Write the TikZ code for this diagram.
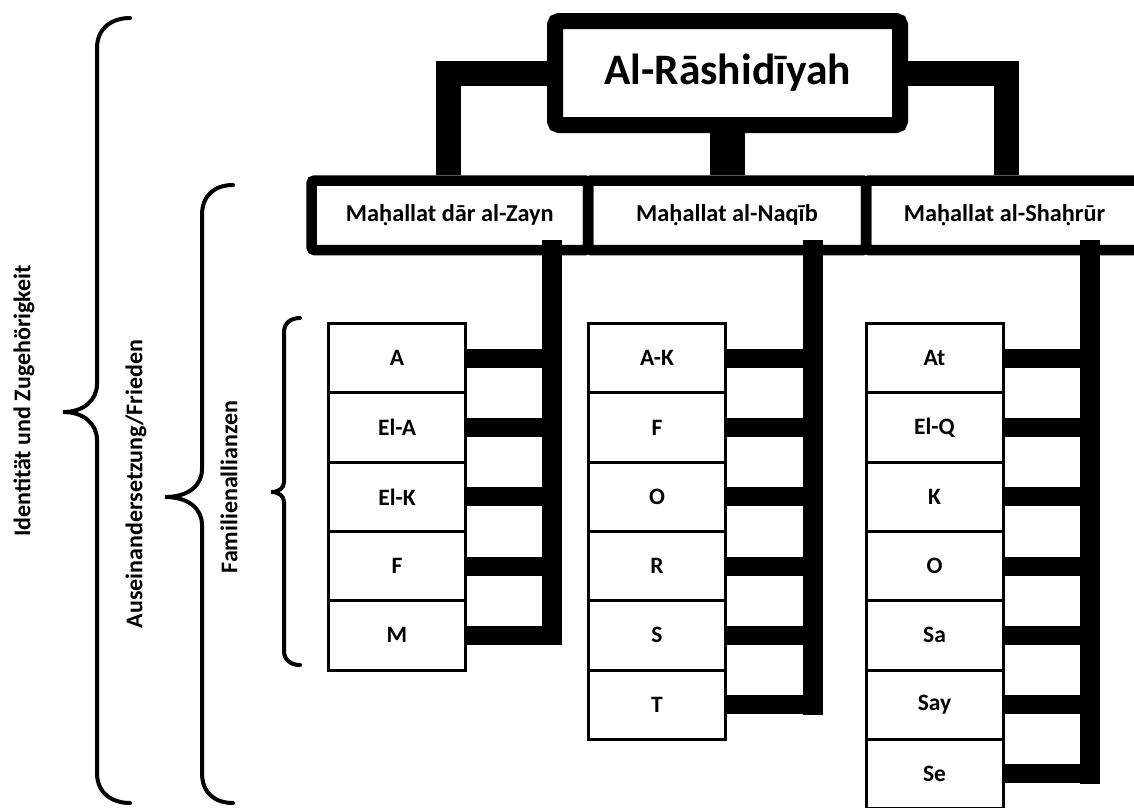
\documentclass[tikz,border=0pt]{standalone}
\usepackage{fontspec}
\setmainfont{Carlito}
\begin{document}
\begin{tikzpicture}[x=1pt,y=-1pt,
  titlebox/.style={draw,line width=16,rounded corners=4,minimum width=345,minimum height=104,inner sep=0,font=\fontsize{43.5}{52}\selectfont\bfseries},
  rowbox/.style={draw,line width=10.5,rounded corners=3,minimum height=69.5,inner sep=0,font=\fontsize{24.3}{29}\selectfont\bfseries},
  childbox/.style={draw,line width=3,minimum width=137,minimum height=69.3,inner sep=0,font=\fontsize{23.5}{28}\selectfont\bfseries},
  arm/.style={line width=25},
  midstem/.style={line width=35},
  stem/.style={line width=20,line cap=rect},
  bar/.style={line width=19},
  bracestyle/.style={line width=4,line cap=round},
  sidelabel/.style={rotate=90,inner sep=0,font=\fontsize{24}{29}\selectfont\bfseries}]
\useasboundingbox (0,0) rectangle (1134,807);
\clip (0,0) rectangle (1134,807);
\fill[white] (0,0) rectangle (1134,807);

% title
\node[titlebox] (title) at (727.5,73) {Al-Rāshidīyah};
% row of quarters
\node[rowbox,minimum width=276.5] (row1) at (449.75,215.25) {Maḥallat dār al-Zayn};
\node[rowbox,minimum width=278] (row2) at (727,215.25) {Maḥallat al-Naqīb};
\node[rowbox,minimum width=277] (row3) at (1004.5,215.25) {Maḥallat al-Shaḥrūr};

% arms from title
\coordinate (L) at (448,0);
\coordinate (R) at (1006,0);
\draw[arm] (title.west) -| (L |- row1.north);
\draw[arm] (title.east) -| (R |- row3.north);
\draw[midstem] (title.south) -- (title.south |- row2.north);

% children
\foreach \t [count=\i from 0] in {A,El-A,El-K,F,M}
  \node[childbox] (a\i) at (397,358.15+69.3*\i) {\t};
\foreach \t [count=\i from 0] in {A-K,F,O,R,S,T}
  \node[childbox] (b\i) at (657,358.15+69.3*\i) {\t};
\foreach \t [count=\i from 0] in {At,El-Q,K,O,Sa,Say,Se}
  \node[childbox] (c\i) at (934.5,358.15+69.3*\i) {\t};

\coordinate (s1) at (552,250);
\coordinate (s2) at (813,250);
\coordinate (s3) at (1090,250);
\draw[stem] (s1) -- (s1 |- a4.center);
\draw[stem] (s2) -- (s2 |- b5.center);
\draw[stem] (s3) -- (s3 |- c6.center);
\foreach \i in {0,...,4} \draw[bar] (a\i.east) -- (a\i.east -| s1);
\foreach \i in {0,...,5} \draw[bar] (b\i.east) -- (b\i.east -| s2);
\foreach \i in {0,...,6} \draw[bar] (c\i.east) -- (c\i.east -| s3);

% braces
\draw[bracestyle] (130,18) .. controls (112,18) and (97,28) .. (97,48) -- (97,384) .. controls (97,400) and (84,412) .. (63,412) .. controls (84,412) and (97,424) .. (97,440) -- (97,773) .. controls (97,793) and (112,803) .. (130,803);
\draw[bracestyle] (233,185) .. controls (215,185) and (202,195) .. (202,215) -- (202,469) .. controls (202,485) and (189,497) .. (165,497) .. controls (189,497) and (202,509) .. (202,525) -- (202,773) .. controls (202,793) and (215,803) .. (233,803);
\draw[bracestyle] (300,318) .. controls (291,318) and (284,323) .. (284,332) -- (284,482) .. controls (284,488) and (279,492) .. (271,492) .. controls (279,492) and (284,496) .. (284,502) -- (284,651) .. controls (284,660) and (291,665) .. (300,665);

% side labels
\node[sidelabel] (l1) at (24,401) {Identität und Zugehörigkeit};
\node[sidelabel] (l2) at (136,484) {Auseinandersetzung/Frieden};
\node[sidelabel] (l3) at (229,487) {Familienallianzen};
\end{tikzpicture}
\end{document}
